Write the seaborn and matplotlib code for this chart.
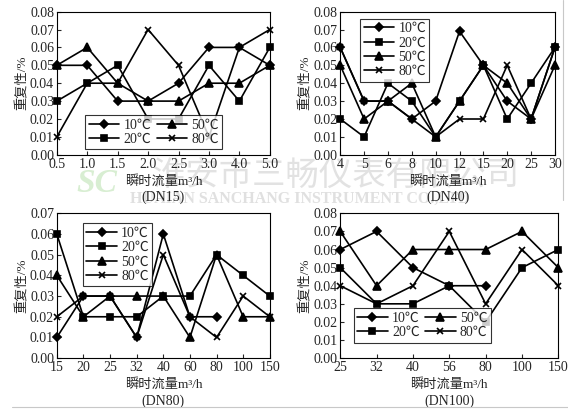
import numpy as np
import pandas as pd
import matplotlib
matplotlib.use("Agg")
import matplotlib.pyplot as plt
import seaborn as sns

sns.set_style("ticks")
plt.rcParams['font.family'] = ['Liberation Serif', 'Noto Sans CJK SC']
plt.rcParams['font.size'] = 9.5
plt.rcParams['axes.linewidth'] = 0.8

temps = ['10℃', '20℃', '50℃', '80℃']
nan = np.nan

# DN15
dn15_flow = ['0.5', '1.0', '1.5', '2.0', '2.5', '3.0', '4.0', '5.0']
dn15_10 = [0.05, 0.05, 0.03, 0.03, 0.04, 0.06, 0.06, 0.05]
dn15_20 = [0.03, 0.04, 0.05, 0.02, 0.02, 0.05, 0.03, 0.06]
dn15_50 = [0.05, 0.06, 0.04, 0.03, 0.03, 0.04, 0.04, 0.05]
dn15_80 = [0.01, 0.04, 0.04, 0.07, 0.05, 0.01, 0.06, 0.07]

# DN40
dn40_flow = ['4', '5', '6', '8', '10', '12', '15', '20', '25', '30']
dn40_10 = [0.06, 0.03, 0.03, 0.02, 0.03, 0.069, 0.05, 0.03, 0.02, 0.06]
dn40_20 = [0.02, 0.01, 0.04, 0.03, 0.01, 0.03, 0.05, 0.02, 0.04, 0.06]
dn40_50 = [0.05, 0.02, 0.03, 0.04, 0.01, 0.03, 0.05, 0.04, 0.02, 0.05]
dn40_80 = [0.06, 0.03, 0.03, 0.02, 0.01, 0.02, 0.02, 0.05, 0.02, 0.06]

# DN80
dn80_flow = ['15', '20', '25', '32', '40', '60', '80', '100', '150']
dn80_10 = [0.01, 0.03, 0.03, 0.01, 0.06, 0.02, 0.02, nan, nan]
dn80_20 = [0.06, 0.02, 0.02, 0.02, 0.03, 0.03, 0.05, 0.04, 0.03]
dn80_50 = [0.04, 0.02, 0.03, 0.03, 0.03, 0.01, 0.05, 0.02, 0.02]
dn80_80 = [0.02, 0.03, 0.03, 0.01, 0.05, 0.02, 0.01, 0.03, 0.02]

# DN100
dn100_flow = ['25', '32', '40', '56', '80', '100', '150']
dn100_10 = [0.06, 0.07, 0.05, 0.04, 0.04, nan, nan]
dn100_20 = [0.05, 0.03, 0.03, 0.04, 0.02, 0.05, 0.06]
dn100_50 = [0.07, 0.04, 0.06, 0.06, 0.06, 0.07, 0.05]
dn100_80 = [0.04, 0.03, 0.04, 0.07, 0.03, 0.06, 0.04]

markers = {'10℃': 'D', '20℃': 's', '50℃': '^', '80℃': 'x'}
msizes = {'10℃': 4.5, '20℃': 5, '50℃': 5.5, '80℃': 5}


def make_df(flow, series):
    rows = []
    for t, vals in zip(temps, series):
        for i, v in enumerate(vals):
            rows.append({'pos': i, 'flow': flow[i], 'temp': t, 'val': v})
    return pd.DataFrame(rows).dropna()


def draw(ax, flow, series, ymax, title, leg_kw):
    df = make_df(flow, series)
    for t in temps:
        sub = df[df['temp'] == t]
        sns.lineplot(data=sub, x='pos', y='val', color='black',
                     marker=markers[t], markersize=msizes[t],
                     markeredgewidth=1.2, markeredgecolor='black',
                     linewidth=1.2, ax=ax, legend=False, clip_on=False)
    n = len(flow)
    ax.set_xlim(0, n - 1)
    ax.set_ylim(0, ymax)
    ax.set_xticks(range(n))
    ax.set_xticklabels(flow)
    yt = np.arange(0, ymax + 0.001, 0.01)
    ax.set_yticks(yt)
    ax.set_yticklabels(['%.2f' % v for v in yt])
    ax.tick_params(direction='in', length=3, width=0.8, pad=2, labelsize=10)
    ax.set_ylabel('重复性/%', fontsize=9.5, labelpad=1)
    ax.set_xlabel('瞬时流量m³/h', fontsize=9.5, labelpad=3)
    ax.text(0.5, -0.295, '(DN%s)' % title, transform=ax.transAxes,
            ha='center', va='center', fontsize=10)
    for s in ax.spines.values():
        s.set_color('black')
    handles = [plt.Line2D([], [], color='black', marker=markers[t],
                          markersize=msizes[t], lw=1.2, mew=1.2) for t in temps]
    leg = ax.legend(handles, temps, frameon=True, fancybox=False,
                    edgecolor='black', handlelength=2.2, handletextpad=0.3,
                    borderpad=0.25, labelspacing=0.1, columnspacing=0.4,
                    fontsize=10, **leg_kw)
    leg.get_frame().set_linewidth(0.8)


fig = plt.figure(figsize=(5.68, 4.15), dpi=100)
ax1 = fig.add_axes([0.100, 0.627, 0.375, 0.345])
ax2 = fig.add_axes([0.599, 0.627, 0.378, 0.345])
ax3 = fig.add_axes([0.100, 0.137, 0.375, 0.349])
ax4 = fig.add_axes([0.599, 0.137, 0.384, 0.349])

draw(ax1, dn15_flow, [dn15_10, dn15_20, dn15_50, dn15_80], 0.08, '15',
     dict(ncol=2, loc='lower left', bbox_to_anchor=(0.10, -0.01)))
draw(ax2, dn40_flow, [dn40_10, dn40_20, dn40_50, dn40_80], 0.08, '40',
     dict(ncol=1, loc='upper left', bbox_to_anchor=(0.06, 1.0)))
draw(ax3, dn80_flow, [dn80_10, dn80_20, dn80_50, dn80_80], 0.07, '80',
     dict(ncol=1, loc='upper left', bbox_to_anchor=(0.09, 0.98)))
draw(ax4, dn100_flow, [dn100_10, dn100_20, dn100_50, dn100_80], 0.08, '100',
     dict(ncol=2, loc='lower left', bbox_to_anchor=(0.03, 0.06)))

# faint watermark behind the panels
fig.text(153 / 568, 1 - 185 / 415, '淮安市三畅仪表有限公司', fontsize=24,
         color='#e2e2e2', family=['Noto Sans CJK SC'], zorder=-1)
fig.text(130 / 568, 1 - 203 / 415, 'HUAIAN SANCHANG INSTRUMENT CO.,LTD',
         fontsize=11.5, color='#e0e0e0', weight='bold', zorder=-1)
fig.text(76 / 568, 1 - 192 / 415, 'SC', fontsize=24, color='#d8eed2',
         weight='bold', style='italic', zorder=-1)

# page rules
fig.add_artist(plt.Line2D([12 / 568, 1.0], [1 - 407 / 415] * 2,
                          color='#c8c8c8', lw=0.8))
fig.add_artist(plt.Line2D([563 / 568] * 2, [1 - 200 / 415, 1.0],
                          color='#c8c8c8', lw=0.8))

fig.savefig('out.png', dpi=100)
